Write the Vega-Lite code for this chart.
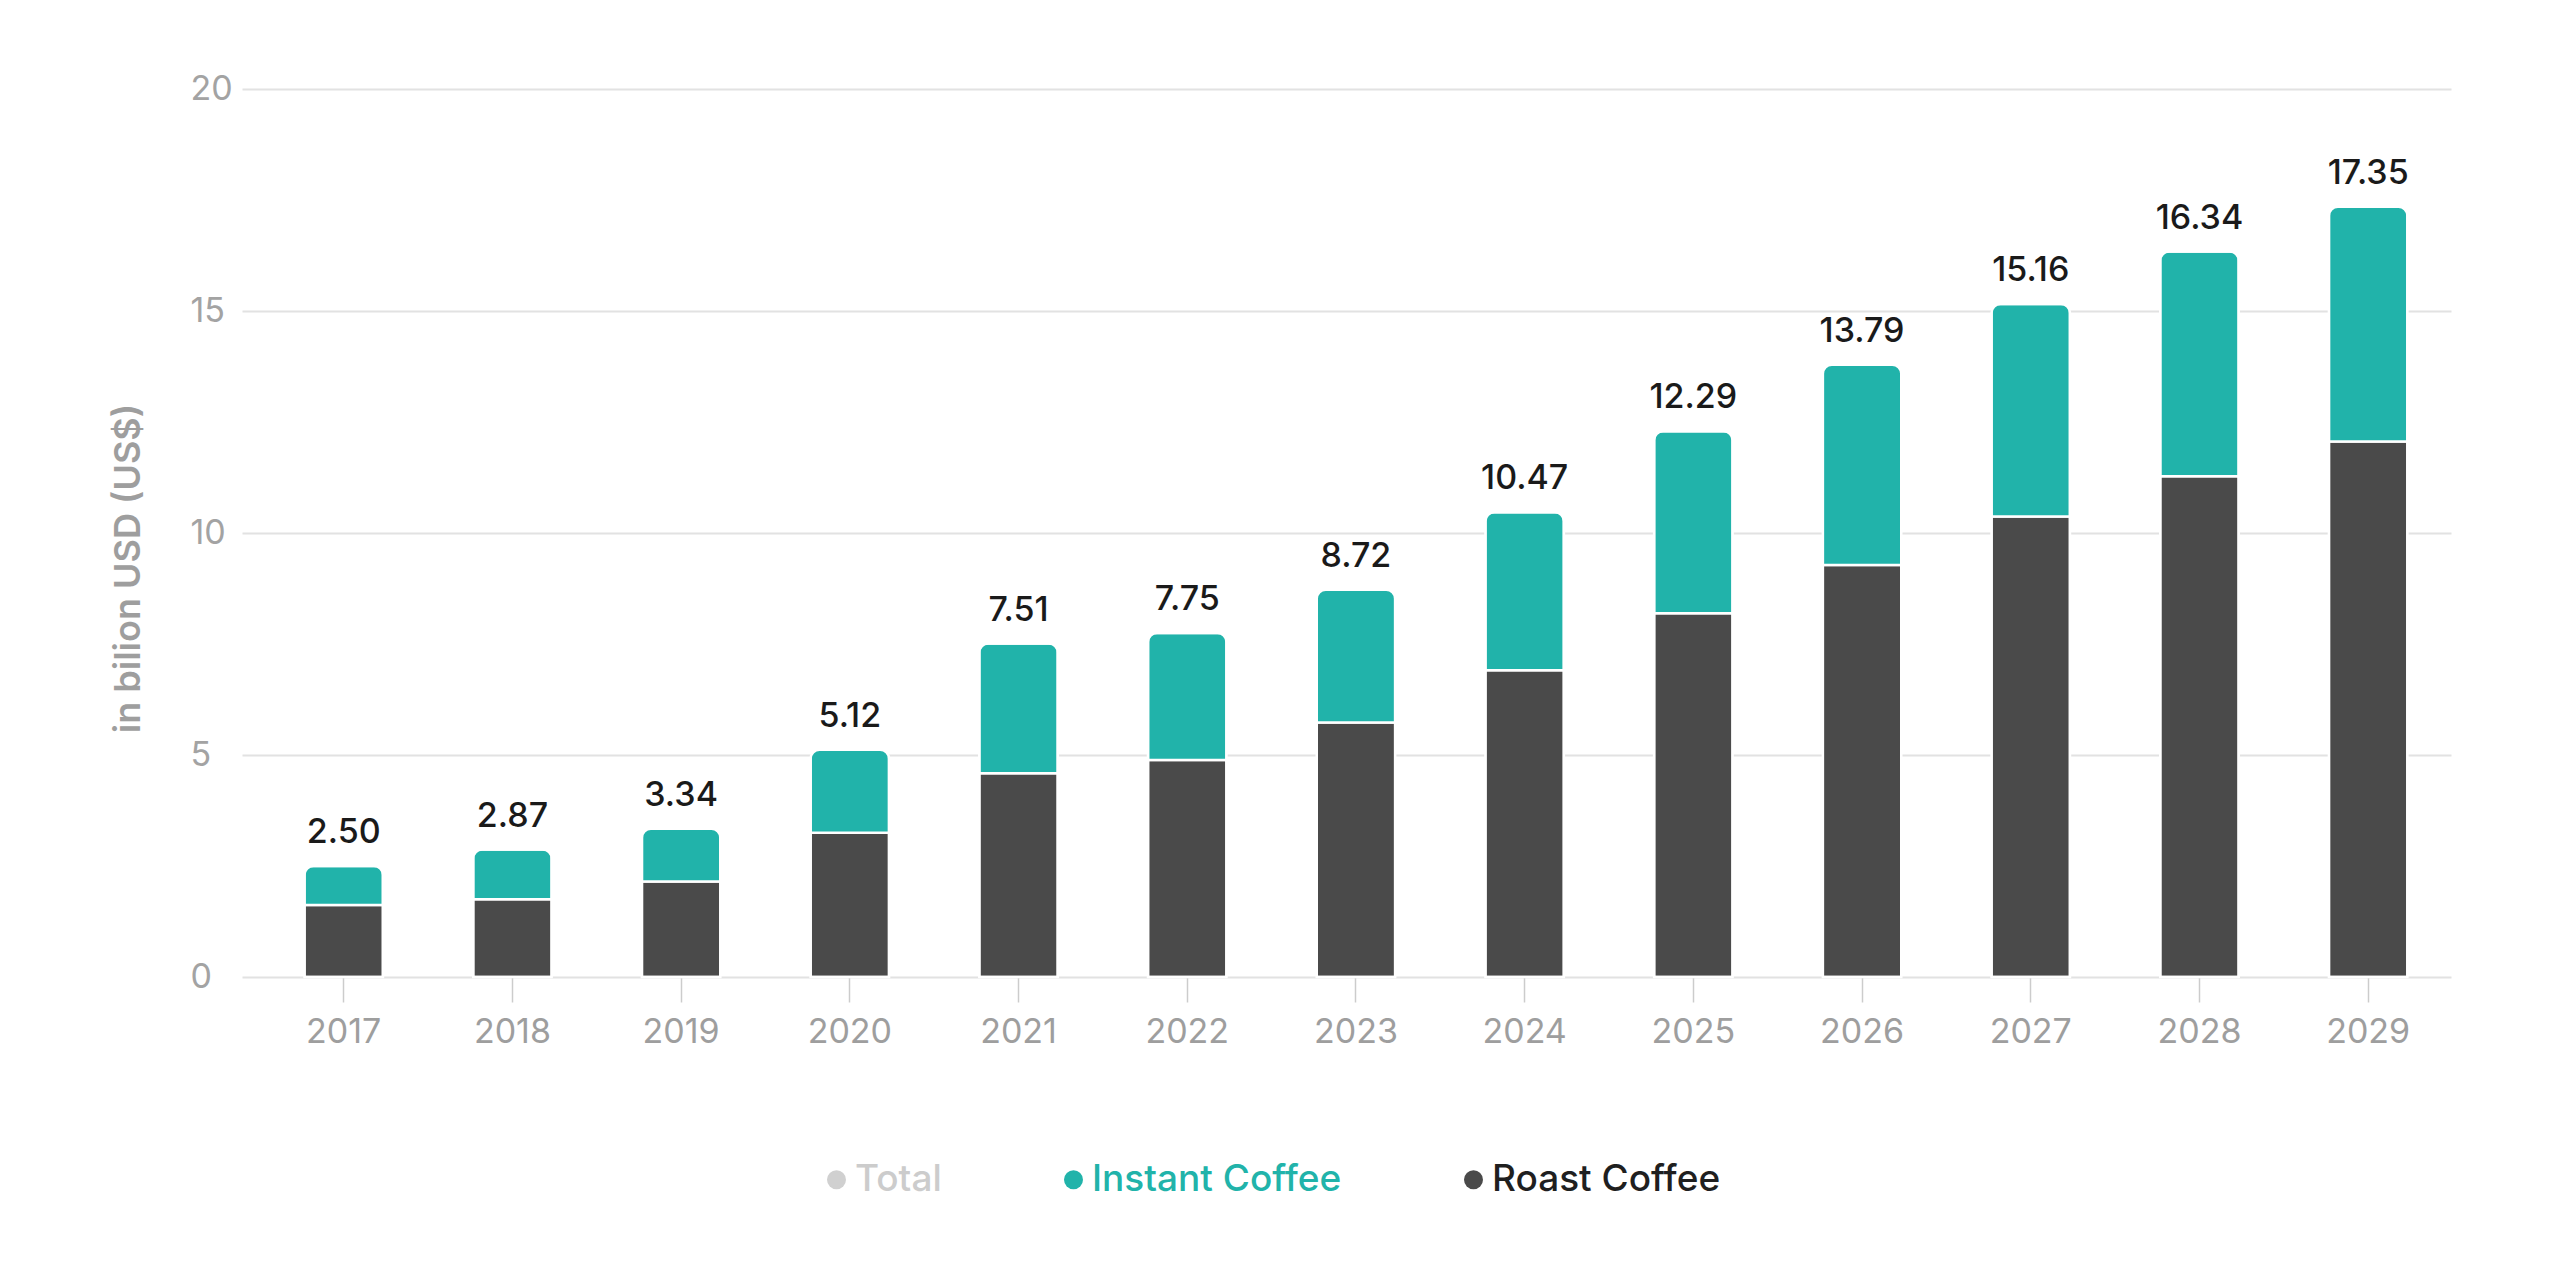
{
  "$schema": "https://vega.github.io/schema/vega-lite/v6.json",
  "width": 2209,
  "height": 888,
  "autosize": {"type": "none"},
  "padding": {"left": 242, "top": 89, "right": 109, "bottom": 300},
  "background": "white",
  "config": {"font": "Inter", "view": {"stroke": null}},
  "datasets": {
    "parts": [
      {"year": "2017", "type": "Roast Coffee", "value": 1.62},
      {"year": "2017", "type": "Instant Coffee", "value": 0.88},
      {"year": "2018", "type": "Roast Coffee", "value": 1.75},
      {"year": "2018", "type": "Instant Coffee", "value": 1.12},
      {"year": "2019", "type": "Roast Coffee", "value": 2.15},
      {"year": "2019", "type": "Instant Coffee", "value": 1.19},
      {"year": "2020", "type": "Roast Coffee", "value": 3.25},
      {"year": "2020", "type": "Instant Coffee", "value": 1.87},
      {"year": "2021", "type": "Roast Coffee", "value": 4.59},
      {"year": "2021", "type": "Instant Coffee", "value": 2.92},
      {"year": "2022", "type": "Roast Coffee", "value": 4.89},
      {"year": "2022", "type": "Instant Coffee", "value": 2.86},
      {"year": "2023", "type": "Roast Coffee", "value": 5.73},
      {"year": "2023", "type": "Instant Coffee", "value": 2.99},
      {"year": "2024", "type": "Roast Coffee", "value": 6.91},
      {"year": "2024", "type": "Instant Coffee", "value": 3.56},
      {"year": "2025", "type": "Roast Coffee", "value": 8.19},
      {"year": "2025", "type": "Instant Coffee", "value": 4.10},
      {"year": "2026", "type": "Roast Coffee", "value": 9.28},
      {"year": "2026", "type": "Instant Coffee", "value": 4.51},
      {"year": "2027", "type": "Roast Coffee", "value": 10.37},
      {"year": "2027", "type": "Instant Coffee", "value": 4.79},
      {"year": "2028", "type": "Roast Coffee", "value": 11.28},
      {"year": "2028", "type": "Instant Coffee", "value": 5.06},
      {"year": "2029", "type": "Roast Coffee", "value": 12.06},
      {"year": "2029", "type": "Instant Coffee", "value": 5.29}
    ],
    "totals": [
      {"year": "2017", "total": 2.50},
      {"year": "2018", "total": 2.87},
      {"year": "2019", "total": 3.34},
      {"year": "2020", "total": 5.12},
      {"year": "2021", "total": 7.51},
      {"year": "2022", "total": 7.75},
      {"year": "2023", "total": 8.72},
      {"year": "2024", "total": 10.47},
      {"year": "2025", "total": 12.29},
      {"year": "2026", "total": 13.79},
      {"year": "2027", "total": 15.16},
      {"year": "2028", "total": 16.34},
      {"year": "2029", "total": 17.35}
    ]
  },
  "layer": [
    {
      "data": {"name": "parts"},
      "mark": {"type": "bar", "cornerRadiusTopLeft": 9, "cornerRadiusTopRight": 9, "stroke": "white", "strokeWidth": 2.5},
      "encoding": {
        "x": {
          "field": "year", "type": "ordinal",
          "scale": {"paddingInner": 0.535, "paddingOuter": 0.3145, "align": 0.589},
          "axis": {"title": null, "labelAngle": 0, "domain": false, "grid": false, "tickSize": 25, "tickColor": "#cccccc", "tickWidth": 1.5, "labelPadding": 13, "labelFontSize": 34, "labelColor": "#9e9e9e", "labelFont": "Inter"}
        },
        "y": {
          "field": "value", "type": "quantitative", "stack": "zero",
          "scale": {"domain": [0, 20]},
          "axis": {"title": "in bilion USD (US$)", "values": [0, 5, 10, 15, 20], "domain": false, "ticks": false, "tickSize": 0, "labelAlign": "left", "labelPadding": 52, "labelFontSize": 34, "labelColor": "#a3a3a3", "labelFont": "Inter", "gridColor": "#e2e2e2", "gridWidth": 2, "titleFontSize": 36, "titleFontWeight": 600, "titleColor": "#9e9e9e", "titleFont": "Inter", "titleX": -114, "titleY": 479, "titleAngle": -90, "titleAlign": "center", "titleBaseline": "middle"}
        },
        "color": {
          "field": "type", "type": "nominal",
          "scale": {"domain": ["Total", "Instant Coffee", "Roast Coffee"], "range": ["#d0d0d0", "#21b3aa", "#4a4a4a"]},
          "legend": {
            "orient": "none", "legendX": 576, "legendY": 1072, "direction": "horizontal", "title": null,
            "symbolType": "circle", "symbolSize": 361, "symbolStrokeWidth": 0, "symbolOpacity": 1,
            "labelFontSize": 37, "labelFont": "Inter", "labelFontWeight": 500, "labelLimit": 0,
            "labelColor": {"expr": "datum.value === 'Total' ? '#cccccc' : datum.value === 'Instant Coffee' ? '#21b3aa' : '#1f1f1f'"},
            "columnPadding": 113, "labelOffset": 0
          }
        },
        "order": {"field": "type", "sort": "descending"}
      }
    },
    {
      "data": {"name": "totals"},
      "mark": {"type": "text", "dy": -23, "baseline": "alphabetic", "fontSize": 34, "color": "#1a1a1a", "fontWeight": 500, "font": "Inter"},
      "encoding": {
        "x": {"field": "year", "type": "ordinal"},
        "y": {"field": "total", "type": "quantitative"},
        "text": {"field": "total", "type": "quantitative", "format": ".2f"}
      }
    }
  ]
}
